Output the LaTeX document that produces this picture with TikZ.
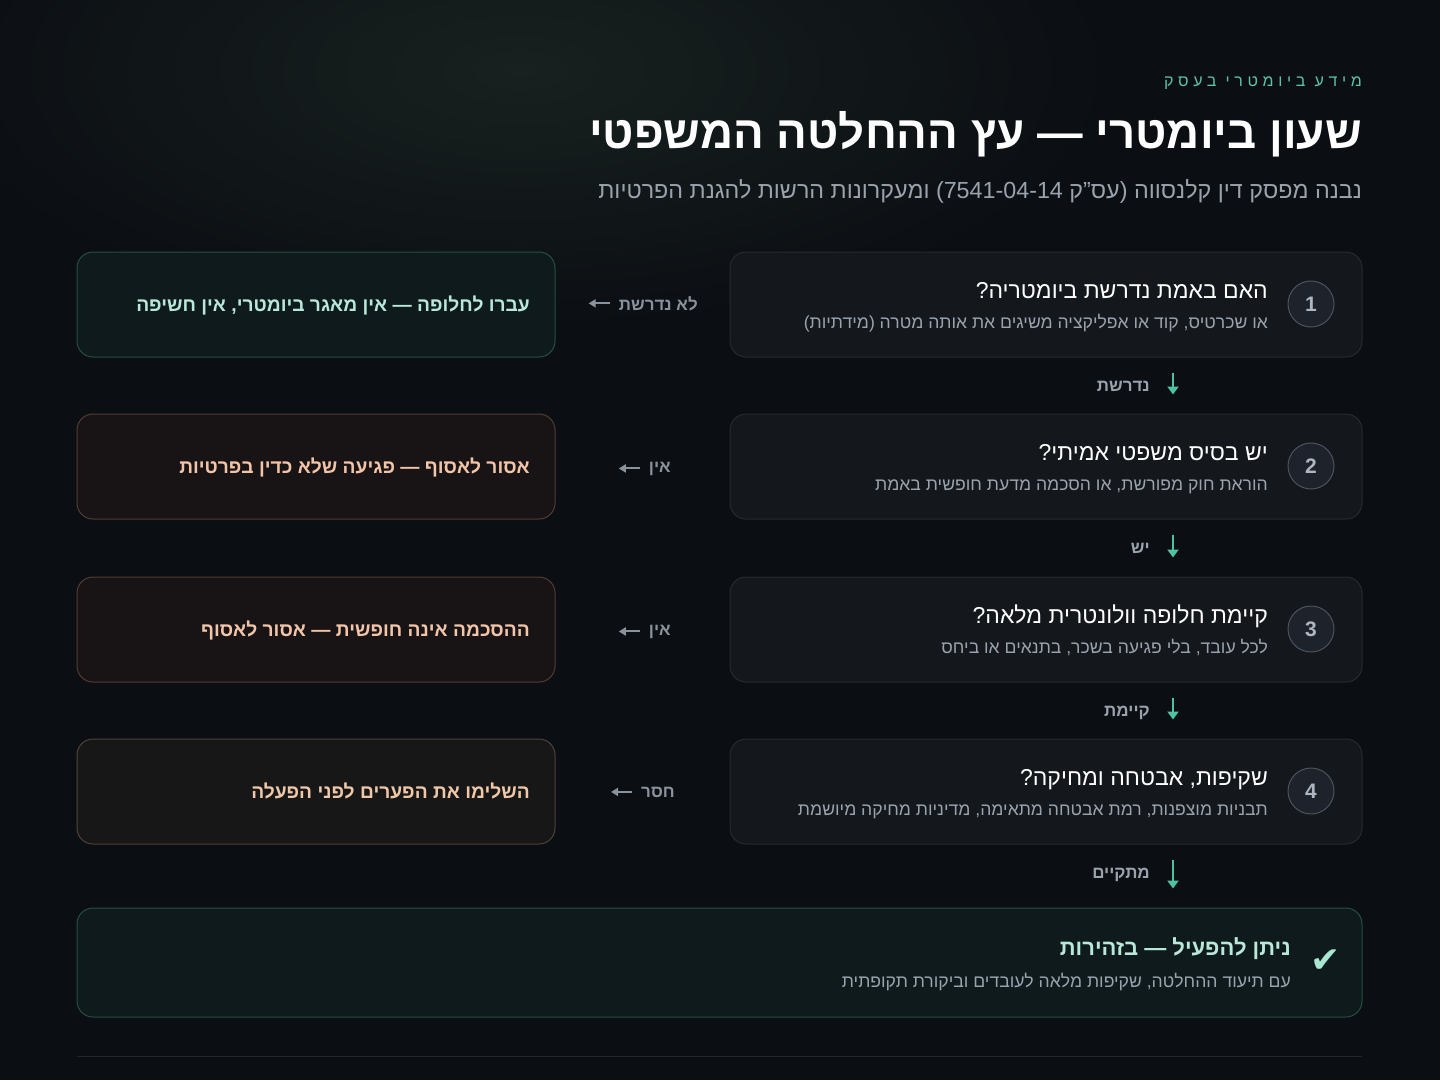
\documentclass[tikz,border=0pt]{standalone}
\usepackage{fontspec}
\setmainfont[Script=Hebrew]{Liberation Sans}
\newfontfamily\symf{DejaVu Sans}
\TeXXeTstate=1
\usetikzlibrary{arrows.meta,calc}
\newcommand\heb[1]{\beginR #1\endR}
\definecolor{bg}{HTML}{0B0E13}
\definecolor{glow}{HTML}{18211F}
\definecolor{card}{HTML}{14171C}
\definecolor{cardline}{HTML}{262B32}
\definecolor{tealc}{HTML}{4FC3A1}
\definecolor{kick}{HTML}{5CC4A4}
\definecolor{muted}{HTML}{9AA3AD}
\definecolor{lblc}{HTML}{8A929C}
\definecolor{numfill}{HTML}{1E232B}
\definecolor{numline}{HTML}{4B535D}
\definecolor{numtext}{HTML}{AEB6C2}
\definecolor{okfill}{HTML}{0F1A1D}
\definecolor{okline}{HTML}{24503F}
\definecolor{oktext}{HTML}{B8E8D8}
\definecolor{nofill}{HTML}{181416}
\definecolor{noline}{HTML}{533C34}
\definecolor{notext}{HTML}{F2C4A8}
\definecolor{wfill}{HTML}{181717}
\definecolor{wline}{HTML}{4F4236}
\definecolor{wtext}{HTML}{F0C8A8}
\definecolor{checkc}{HTML}{A8E6CF}
\definecolor{sepc}{HTML}{22262C}
\tikzset{
  qcard/.style={draw=cardline, fill=card, line width=1pt, rounded corners=16pt, minimum width=632, minimum height=105, inner sep=0},
  ocard/.style={line width=1pt, rounded corners=16pt, minimum width=478, minimum height=105, inner sep=0},
  okcard/.style={ocard, draw=okline, fill=okfill},
  nocard/.style={ocard, draw=noline, fill=nofill},
  wcard/.style={ocard, draw=wline, fill=wfill},
  numc/.style={circle, draw=numline, fill=numfill, line width=1pt, minimum size=46, inner sep=0, text=numtext, font=\fontsize{21}{21}\selectfont\bfseries},
  qtitle/.style={anchor=base east, inner sep=0, text=white, font=\fontsize{23}{23}\selectfont},
  qsub/.style={anchor=base east, inner sep=0, text=muted, font=\fontsize{17.6}{17.6}\selectfont},
  otext/.style={anchor=base east, inner sep=0, font=\fontsize{19.2}{19.2}\selectfont\bfseries},
  side/.style={anchor=base east, inner sep=0, text=lblc, font=\fontsize{17}{17}\selectfont\bfseries},
  sidearr/.style={draw=lblc, line width=2pt, -{Triangle[length=7pt,width=8pt]}},
  dlbl/.style={anchor=base east, inner sep=0, text=muted, font=\fontsize{17}{17}\selectfont\bfseries},
  downarr/.style={draw=tealc, line width=2pt, -{Triangle[length=8pt,width=11pt]}},
}
\begin{document}
\begin{tikzpicture}[x=1pt,y=-1pt]
\fill[bg] (0,0) rectangle (1440,1080);
\useasboundingbox (0,0) rectangle (1440,1080);
\shade[inner color=glow, outer color=bg] (520,70) ellipse [x radius=600, y radius=260];
% header
\node[anchor=base east, inner sep=0, text=kick, font=\fontsize{16}{16}\selectfont\addfontfeature{LetterSpace=29}] (kicker) at (1362,86) {\heb{מידע ביומטרי בעסק}};
\node[anchor=base east, inner sep=0, text=white, font=\fontsize{45.6}{45.6}\selectfont\bfseries] (title) at (1362,148) {\heb{שעון ביומטרי — עץ ההחלטה המשפטי}};
\node[anchor=base east, inner sep=0, text=muted, font=\fontsize{23.3}{23.3}\selectfont] (subtitle) at (1362,198) {\heb{נבנה מפסק דין קלנסווה (עס”ק 7541-04-14) ומעקרונות הרשות להגנת הפרטיות}};
% question cards
\node[qcard] (q1) at (1046,304.5) {};
\node[qcard] (q2) at (1046,466.5) {};
\node[qcard] (q3) at (1046,629.5) {};
\node[qcard] (q4) at (1046,791.5) {};
\node[numc] (n1) at (1311,304) {1};
\node[numc] (n2) at (1311,466) {2};
\node[numc] (n3) at (1311,629) {3};
\node[numc] (n4) at (1311,791) {4};
\node[qtitle] (q1t) at (1268,298) {\heb{האם באמת נדרשת ביומטריה?}};
\node[qsub] (q1s) at (1268,328) {\heb{או שכרטיס, קוד או אפליקציה משיגים את אותה מטרה (מידתיות)}};
\node[qtitle] (q2t) at (1268,460) {\heb{יש בסיס משפטי אמיתי?}};
\node[qsub] (q2s) at (1268,490) {\heb{הוראת חוק מפורשת, או הסכמה מדעת חופשית באמת}};
\node[qtitle] (q3t) at (1268,623) {\heb{קיימת חלופה וולונטרית מלאה?}};
\node[qsub] (q3s) at (1268,653) {\heb{לכל עובד, בלי פגיעה בשכר, בתנאים או ביחס}};
\node[qtitle] (q4t) at (1268,785) {\heb{שקיפות, אבטחה ומחיקה?}};
\node[qsub] (q4s) at (1268,815) {\heb{תבניות מוצפנות, רמת אבטחה מתאימה, מדיניות מחיקה מיושמת}};
% outcome cards
\node[okcard] (o1) at (316,304.5) {};
\node[nocard] (o2) at (316,466.5) {};
\node[nocard] (o3) at (316,629.5) {};
\node[wcard] (o4) at (316,791.5) {};
\node[otext, text=oktext] (o1t) at (530,311) {\heb{עברו לחלופה — אין מאגר ביומטרי, אין חשיפה}};
\node[otext, text=notext] (o2t) at (530,473) {\heb{אסור לאסוף — פגיעה שלא כדין בפרטיות}};
\node[otext, text=notext] (o3t) at (530,636) {\heb{ההסכמה אינה חופשית — אסור לאסוף}};
\node[otext, text=wtext] (o4t) at (530,798) {\heb{השלימו את הפערים לפני הפעלה}};
% side labels and arrows
\node[side] (s1) at (698,310) {\heb{לא נדרשת}};
\node[side] (s2) at (671,472) {\heb{אין}};
\node[side] (s3) at (671,635) {\heb{אין}};
\node[side] (s4) at (675,797) {\heb{חסר}};
\coordinate (s1e) at ($(s1.west)+(-30,0)$);
\coordinate (s2e) at ($(s2.west)+(-30,0)$);
\coordinate (s3e) at ($(s3.west)+(-30,0)$);
\coordinate (s4e) at ($(s4.west)+(-30,0)$);
\draw[sidearr] ([xshift=-9pt]s1.west) -- (s1e);
\draw[sidearr] ([xshift=-9pt]s2.west) -- (s2e);
\draw[sidearr] ([xshift=-9pt]s3.west) -- (s3e);
\draw[sidearr] ([xshift=-9pt]s4.west) -- (s4e);
% final card
\node[draw=okline, fill=okfill, line width=1pt, rounded corners=16pt, minimum width=1285, minimum height=109, inner sep=0] (fin) at (719.5,962.5) {};
\node[inner sep=0, text=checkc, font=\symf\fontsize{36}{36}\selectfont] (chk) at (1326,961) {✔};
\node[anchor=base east, inner sep=0, text=oktext, font=\fontsize{22}{22}\selectfont\bfseries] (fint) at (1291,955) {\heb{ניתן להפעיל — בזהירות}};
\node[qsub] (fins) at (1291,987) {\heb{עם תיעוד ההחלטה, שקיפות מלאה לעובדים וביקורת תקופתית}};
% down arrows
\coordinate (ax) at (1173,0);
\draw[downarr] ($(q1.south -| ax)+(0,15)$) -- ($(q2.north -| ax)+(0,-19)$);
\draw[downarr] ($(q2.south -| ax)+(0,15)$) -- ($(q3.north -| ax)+(0,-19)$);
\draw[downarr] ($(q3.south -| ax)+(0,15)$) -- ($(q4.north -| ax)+(0,-19)$);
\draw[downarr] ($(q4.south -| ax)+(0,15)$) -- ($(fin.north -| ax)+(0,-19)$);
\node[dlbl] (d1) at (1150,391) {\heb{נדרשת}};
\node[dlbl] (d2) at (1150,553) {\heb{יש}};
\node[dlbl] (d3) at (1150,716) {\heb{קיימת}};
\node[dlbl] (d4) at (1150,878) {\heb{מתקיים}};
% separator
\draw[sepc, line width=1pt] (77,1056) -- (1362,1056);
\end{tikzpicture}
\end{document}
